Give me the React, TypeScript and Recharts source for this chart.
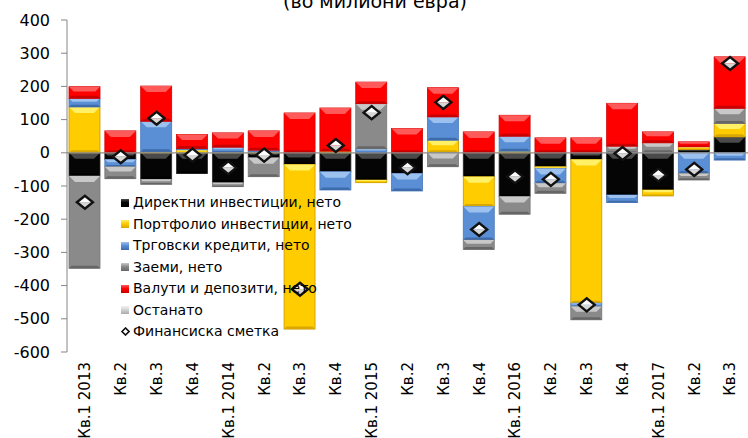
import { ComposedChart, Bar, Line, XAxis, YAxis, ReferenceLine, Legend } from "recharts";

// quarters, Q1 2013 .. Q3 2017
const quarters = [
    "Кв.1 2013", "Кв.2", "Кв.3", "Кв.4",
    "Кв.1 2014", "Кв.2", "Кв.3", "Кв.4",
    "Кв.1 2015", "Кв.2", "Кв.3", "Кв.4",
    "Кв.1 2016", "Кв.2", "Кв.3", "Кв.4",
    "Кв.1 2017", "Кв.2", "Кв.3",
];

// components of the financial account, million EUR
const direct = [-70, -20, -80, -62, -90, -15, -35, -57, -82, -62, 0, -72, -132, -42, -20, -127, -112, 10, 48];
const portfolio = [138, 0, 3, 9, 2, 3, -496, 5, -8, 0, 38, -90, 5, -5, -433, 0, -18, 8, 40];
const tradeCredit = [26, -22, 92, 4, 15, 5, 0, -55, 12, -53, 70, -101, 45, -45, -10, -23, 0, -62, -22];
const loans = [-278, -36, -15, 0, -12, -57, 0, 0, 136, 0, -42, -28, -53, -30, -40, 20, 30, -20, 46];
const currency = [35, 66, 106, 42, 43, 58, 120, 130, 65, 73, 88, 63, 63, 45, 45, 129, 33, 15, 155];
const other = [0, 0, 0, 0, 0, 0, 0, 0, 0, 0, 0, 0, 0, 0, 0, 0, 0, 0, 0];
const finAccount = [-149, -12, 104, -7, -45, -7, -411, 22, 121, -45, 152, -231, -72, -80, -458, -2, -67, -50, 269];

const yTicks = [-600, -500, -400, -300, -200, -100, 0, 100, 200, 300, 400];

const FONT = "'DejaVu Sans', Verdana, sans-serif";

interface Palette {
    base: string;
    light: string;
    dark: string;
    edge: string;
}

const series: { key: string; name: string; pal: Palette }[] = [
    { key: "direct", name: "Директни инвестиции, нето", pal: { base: "#050505", light: "#4a4a4a", dark: "#000000", edge: "#2a2a2a" } },
    { key: "portfolio", name: "Портфолио инвестиции, нето", pal: { base: "#ffcc00", light: "#fff066", dark: "#d9a800", edge: "#c89a00" } },
    { key: "trade", name: "Трговски кредити, нето", pal: { base: "#5a8fd6", light: "#9cc1ee", dark: "#3d6bab", edge: "#4a78b8" } },
    { key: "loans", name: "Заеми, нето", pal: { base: "#8a8a8a", light: "#c8c8c8", dark: "#666666", edge: "#777777" } },
    { key: "currency", name: "Валути и депозити, нето", pal: { base: "#ff0000", light: "#ff5a5a", dark: "#c80000", edge: "#d40000" } },
    { key: "other", name: "Останато", pal: { base: "#d4d4d4", light: "#f2f2f2", dark: "#aaaaaa", edge: "#b8b8b8" } },
];

const data = quarters.map((q, i) => ({
    q,
    direct: direct[i],
    portfolio: portfolio[i],
    trade: tradeCredit[i],
    loans: loans[i],
    currency: currency[i],
    other: other[i],
    fin: finAccount[i],
}));

// bar segment with a soft bevel along the top edge
function bevel(p: Palette) {
    return (props: any) => {
        const { x, y, width, height } = props;
        if (!height || !width) return <g />;
        const top = height < 0 ? y + height : y;
        const h = Math.abs(height);
        const w = width;
        const b = Math.min(6, h / 2.5);
        const bb = Math.min(2.5, h / 4);
        return (
            <g>
                <rect x={x} y={top} width={w} height={h} fill={p.base} stroke={p.edge} strokeWidth={0.8} />
                <polygon
                    points={`${x},${top} ${x + w},${top} ${x + w - b},${top + b} ${x + b},${top + b}`}
                    fill={p.light}
                />
                <polygon
                    points={`${x},${top + h} ${x + w},${top + h} ${x + w - bb},${top + h - bb} ${x + bb},${top + h - bb}`}
                    fill={p.dark}
                />
            </g>
        );
    };
}

function Diamond({ cx, cy }: { cx: number; cy: number }) {
    const hw = 8;
    const hh = 6.5;
    return (
        <g>
            <path d={`M${cx - hw},${cy} L${cx},${cy - hh} L${cx + hw},${cy} Z`} fill="#ffffff" />
            <path d={`M${cx - hw},${cy} L${cx},${cy + hh} L${cx + hw},${cy} Z`} fill="#d6d6d6" />
            <path
                d={`M${cx - hw},${cy} L${cx},${cy - hh} L${cx + hw},${cy} L${cx},${cy + hh} Z`}
                fill="none"
                stroke="#111"
                strokeWidth={2.4}
                strokeLinejoin="miter"
            />
        </g>
    );
}

function QuarterTick({ x, y, payload }: any) {
    return (
        <text
            x={x}
            y={y + 2}
            transform={`rotate(-90, ${x}, ${y + 2})`}
            textAnchor="end"
            dy="0.36em"
            fontSize={15}
            fontFamily={FONT}
            fill="#000"
        >
            {payload.value}
        </text>
    );
}

function LegendBox() {
    const rows = [...series.map((s) => ({ name: s.name, pal: s.pal as Palette | null })), { name: "Финансиска сметка", pal: null }];
    return (
        <div style={{ fontFamily: FONT, fontSize: 14, color: "#000", lineHeight: "21.5px" }}>
            {rows.map((r) => (
                <div key={r.name} style={{ display: "flex", alignItems: "center", height: 21.5, whiteSpace: "nowrap" }}>
                    {r.pal ? (
                        <span
                            style={{
                                display: "inline-block",
                                width: 8,
                                height: 8,
                                background: `linear-gradient(${r.pal.light} 0%, ${r.pal.base} 45%, ${r.pal.dark} 100%)`,
                                marginRight: 4,
                            }}
                        />
                    ) : (
                        <svg width={9} height={9} style={{ marginRight: 3 }}>
                            <path d="M1,4.5 L4.5,1 L8,4.5 L4.5,8 Z" fill="#fff" stroke="#111" strokeWidth={1.6} />
                        </svg>
                    )}
                    <span>{r.name}</span>
                </div>
            ))}
        </div>
    );
}

export default function App() {
    return (
        <div style={{ position: "absolute", left: 0, top: 0, width: 748, height: 438, background: "#fff", overflow: "hidden" }}>
            <ComposedChart
                width={748}
                height={438}
                data={data}
                stackOffset="sign"
                barSize={31}
                margin={{ top: 20, right: 0, bottom: 0, left: 0 }}
            >
                <XAxis
                    dataKey="q"
                    interval={0}
                    axisLine={false}
                    tickLine={false}
                    height={86}
                    tick={<QuarterTick />}
                />
                <YAxis
                    type="number"
                    domain={[-600, 400]}
                    ticks={yTicks}
                    width={67}
                    axisLine={{ stroke: "#868686" }}
                    tickLine={{ stroke: "#868686" }}
                    tickSize={6}
                    tickMargin={11}
                    tick={{ fill: "#000", fontSize: 16, fontFamily: FONT }}
                />
                <ReferenceLine y={0} stroke="#8c8c8c" strokeWidth={1.2} />
                {series.map((s) => (
                    <Bar
                        key={s.key}
                        dataKey={s.key}
                        name={s.name}
                        stackId="fa"
                        fill={s.pal.base}
                        shape={bevel(s.pal)}
                        isAnimationActive={false}
                    />
                ))}
                <Line
                    dataKey="fin"
                    name="Финансиска сметка"
                    stroke="none"
                    dot={(p: any) => <Diamond key={`fin-${p.index}`} cx={p.cx} cy={p.cy} />}
                    activeDot={false}
                    isAnimationActive={false}
                />
                <Legend
                    layout="vertical"
                    align="center"
                    verticalAlign="middle"
                    content={<LegendBox />}
                    wrapperStyle={{ position: "absolute", left: 121, top: 192, width: "auto" }}
                />
            </ComposedChart>
            <svg width={748} height={30} style={{ position: "absolute", left: 0, top: 0, pointerEvents: "none" }}>
                <text x={375} y={8} textAnchor="middle" fontSize={19} fontFamily={FONT} fill="#000">
                    (во милиони евра)
                </text>
            </svg>
        </div>
    );
}
